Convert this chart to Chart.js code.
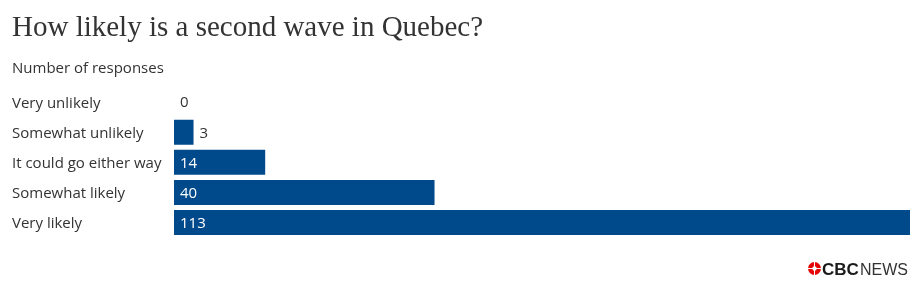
<!DOCTYPE html>
<html>
<head>
<meta charset="utf-8">
<script src="https://cdn.jsdelivr.net/npm/chart.js@4.4.1/dist/chart.umd.min.js"></script>
<style>
  html, body { margin: 0; padding: 0; background: #fff; }
  #wrap { width: 920px; height: 297px; position: relative; }
</style>
</head>
<body>
<div id="wrap"><canvas id="barChart"></canvas></div>
<script>
var categories = ["Very unlikely", "Somewhat unlikely", "It could go either way", "Somewhat likely", "Very likely"];
var responses = [0, 3, 14, 40, 113];

var barColor = "#004a8c";
var textColor = "#333333";

// value labels: white inside wide bars, dark after narrow ones
var valueLabels = {
    id: "valueLabels",
    afterDatasetsDraw: function(chart) {
        var ctx = chart.ctx;
        var meta = chart.getDatasetMeta(0);
        ctx.save();
        ctx.font = "15px 'Open Sans'";
        ctx.textBaseline = "middle";
        ctx.textAlign = "left";
        meta.data.forEach(function(bar, i) {
            var w = bar.x - bar.base;
            if (w > 30) {
                ctx.fillStyle = "#ffffff";
                ctx.fillText(responses[i], bar.base + 6, bar.y + 1);
            } else {
                ctx.fillStyle = textColor;
                ctx.fillText(responses[i], bar.x + 6, bar.y + 1);
            }
        });
        ctx.restore();
    }
};

// CBC News mark bottom right
var logo = {
    id: "logo",
    afterDraw: function(chart) {
        var ctx = chart.ctx;
        var cx = 814.5, cy = 268.5, r = 6.5;
        ctx.save();
        ctx.fillStyle = "#e60505";
        ctx.beginPath();
        ctx.arc(cx, cy, r, 0, Math.PI * 2);
        ctx.fill();
        ctx.strokeStyle = "#ffffff";
        ctx.lineWidth = 1;
        ctx.beginPath();
        ctx.moveTo(cx - r, cy); ctx.lineTo(cx + r, cy);
        ctx.moveTo(cx, cy - r); ctx.lineTo(cx, cy + r);
        ctx.stroke();
        ctx.beginPath();
        ctx.arc(cx, cy, 2.2, 0, Math.PI * 2);
        ctx.fillStyle = "#ffffff";
        ctx.fill();
        ctx.textBaseline = "alphabetic";
        ctx.textAlign = "left";
        ctx.fillStyle = "#1a1a1a";
        ctx.font = "bold 17px 'Liberation Sans'";
        ctx.fillText("CBC", 822, 275, 38);
        ctx.fillStyle = "#333333";
        ctx.font = "16px 'Liberation Sans'";
        ctx.fillText("NEWS", 860, 275, 48);
        ctx.restore();
    }
};

var chart = new Chart(document.getElementById("barChart"), {
    type: "bar",
    data: {
        labels: categories,
        datasets: [{
            data: responses,
            backgroundColor: barColor,
            borderWidth: 0,
            barPercentage: 0.833,
            categoryPercentage: 1
        }]
    },
    options: {
        indexAxis: "y",
        responsive: true,
        maintainAspectRatio: false,
        animation: false,
        layout: { padding: { left: 12, right: 10, top: 9, bottom: 59.5 } },
        scales: {
            x: { display: false, min: 0, max: 113 },
            y: {
                grid: { display: false, drawTicks: false },
                border: { display: false },
                ticks: {
                    color: textColor,
                    font: { family: "'Open Sans'", size: 15 },
                    crossAlign: "far",
                    labelOffset: 1.5,
                    padding: 0
                },
                afterFit: function(scale) { scale.width = 162; }
            }
        },
        plugins: {
            legend: { display: false },
            tooltip: { enabled: false },
            title: {
                display: true,
                text: "How likely is a second wave in Quebec?",
                align: "start",
                color: textColor,
                font: { family: "'Liberation Serif'", size: 29, weight: "normal" },
                padding: { top: 2, bottom: 14 }
            },
            subtitle: {
                display: true,
                text: "Number of responses",
                align: "start",
                color: textColor,
                font: { family: "'Open Sans'", size: 15 },
                padding: { top: 0, bottom: 9.4 }
            }
        }
    },
    plugins: [valueLabels, logo]
});
</script>
</body>
</html>
